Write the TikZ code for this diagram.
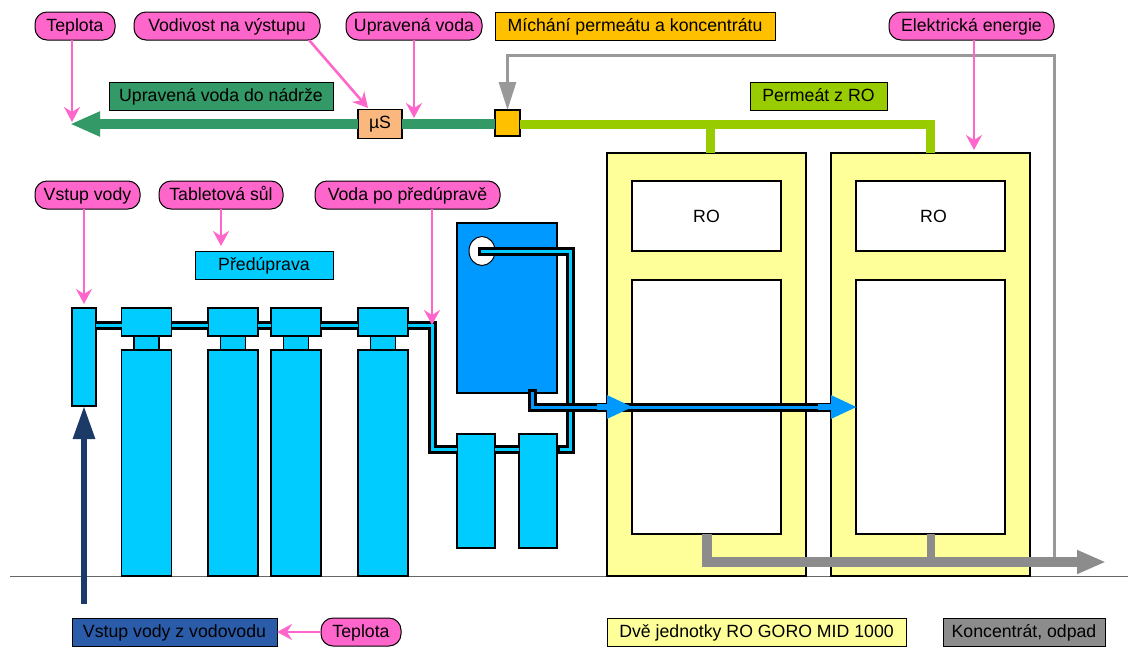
\documentclass[tikz,border=0pt]{standalone}
\usepackage{fontspec}
\setmainfont{Liberation Sans}
\usetikzlibrary{arrows.meta,shapes.geometric}
\definecolor{pinktag}{HTML}{FF66CC}
\definecolor{cyanpart}{HTML}{00CCFF}
\definecolor{tankblue}{HTML}{0099FF}
\definecolor{rowgreen}{HTML}{339966}
\definecolor{permgreen}{HTML}{99CC00}
\definecolor{mixorange}{HTML}{FFC000}
\definecolor{sensorsalmon}{HTML}{FAB77E}
\definecolor{unityellow}{HTML}{FFFF99}
\definecolor{wastegray}{HTML}{8C8C8C}
\definecolor{feedblue}{HTML}{2A5CAA}
\definecolor{feeddark}{HTML}{1B3A68}

\begin{document}
\begin{tikzpicture}[x=1pt,y=-1pt,
    every node/.style={inner sep=0pt,outer sep=0pt,font=\fontsize{17.7}{20}\selectfont},
    tag/.style={draw=black,line width=1pt,fill=pinktag,rounded corners=12pt,minimum height=28pt,text height=14pt,text depth=4pt},
    label/.style={draw=black,line width=1pt,minimum height=28pt,text height=14pt,text depth=4pt},
    part/.style={draw=black,line width=1.2pt,fill=cyanpart},
    unit/.style={draw=black,line width=1.2pt,fill=unityellow,minimum width=199pt,minimum height=423pt},
    inner/.style={draw=black,line width=1.2pt,fill=white,minimum width=149pt},
    tagarrow/.style={draw=pinktag,line width=2.6pt,-{Stealth[length=15pt,width=16pt,inset=5pt]}},
    pipe/.style={draw=black,line width=3pt,double=cyanpart,double distance=3pt},
    pipeout/.style={pipe,double=tankblue},
    flow/.style={draw=tankblue,line width=6pt,-{Triangle[length=26pt,width=22pt]}},
    waste/.style={draw=wastegray,line width=10pt},
    ]
  \useasboundingbox (0,0) rectangle (1128,646);
  \coordinate (groundl) at (10,576);
  \coordinate (groundr) at (1128,576);
  \draw[line width=1pt,draw=black!60] (groundl) -- (groundr);

  \node[unit] (unit1) at (706.5,364.5) {};
  \node[unit] (unit2) at (930.5,364.5) {};
  \node[inner,minimum height=70pt] (ro1) at (706.5,216) {RO};
  \node[inner,minimum height=70pt] (ro2) at (930.5,216) {\hspace*{6pt}RO};
  \node[inner,minimum height=254pt] (memb1) at (706.5,407) {};
  \node[inner,minimum height=254pt] (memb2) at (930.5,407) {};

  \node[part,minimum width=24pt,minimum height=98pt] (inlet) at (84,357) {};
  \foreach \name/\x in {a/146.5,b/233,c/296,d/383} {
    \node[part,minimum width=50pt,minimum height=28pt] (head\name) at (\x,322) {};
    \node[part,minimum width=25pt,minimum height=14pt] (neck\name) at (\x,343) {};
    \node[part,minimum width=50pt,minimum height=226pt] (body\name) at (\x,463) {};
  }
  \node[part,minimum width=38pt,minimum height=114pt] (filter1) at (476,491) {};
  \node[part,minimum width=38pt,minimum height=114pt] (filter2) at (538,491) {};
  \node[part,fill=tankblue,minimum width=100pt,minimum height=170pt] (tank) at (507,308) {};
  \node[draw=black,line width=1pt,fill=white,ellipse,minimum width=26pt,minimum height=29pt] (valve) at (482,251) {};

  \coordinate (pipel0) at (96,325);
  \coordinate (pipel1) at (432,325);
  \coordinate (pipel2) at (432,449);
  \coordinate (piper1) at (570,449);
  \coordinate (piper2) at (570,251);
  \draw[pipe] (pipel0) -- (heada.west |- pipel0);
  \draw[pipe] (heada.east |- pipel0) -- (headb.west |- pipel0);
  \draw[pipe] (headb.east |- pipel0) -- (headc.west |- pipel0);
  \draw[pipe] (headc.east |- pipel0) -- (headd.west |- pipel0);
  \draw[pipe] (headd.east |- pipel0) -- (pipel1) -- (pipel2) -- (filter1.west |- pipel2);
  \draw[pipe] (filter1.east |- pipel2) -- (filter2.west |- pipel2);
  \draw[pipe,line cap=rect,shorten <=4pt] (filter2.east |- piper1) -- (piper1) -- (piper2) -- (valve.center);

  \coordinate (outs) at (532,393);
  \coordinate (outc) at (532,407);
  \coordinate (oute) at (826,407);
  \draw[pipeout,line cap=rect] (outs) -- (outc) -- (oute);
  \coordinate (flow1s) at (597,407);
  \coordinate (flow1e) at (633,407);
  \coordinate (flow2s) at (818,407);
  \coordinate (flow2e) at (857,407);
  \draw[flow] (flow1s) -- (flow1e);
  \draw[flow] (flow2s) -- (flow2e);

  \node[draw=black,line width=1.2pt,fill=sensorsalmon,minimum width=44pt,minimum height=29pt] (sensor) at (380,124) {\textmu S};
  \node[draw=black,line width=1.2pt,fill=mixorange,minimum width=25pt,minimum height=26pt] (mixer) at (507.5,123) {};
  \coordinate (rowtip) at (70,124);
  \coordinate (permc) at (930,124);
  \coordinate (permd) at (710,124);
  \draw[draw=rowgreen,line width=10pt] (mixer.west |- rowtip) -- (sensor.east |- rowtip);
  \draw[draw=rowgreen,line width=10pt,-{Triangle[length=30pt,width=23pt]}] (sensor.west |- rowtip) -- (rowtip);
  \draw[draw=permgreen,line width=9pt] (mixer.east |- permc) -- (permc) -- (permc |- unit2.north);
  \draw[draw=permgreen,line width=9pt] (permd) -- (permd |- unit1.north);

  \coordinate (wastetip) at (1106,562);
  \coordinate (grayc1) at (1054,562);
  \coordinate (grayc2) at (1054,55);
  \coordinate (grayc3) at (507.5,55);
  \draw[draw=black!40!white,line width=3pt,-{Triangle[length=28pt,width=17pt]}] (grayc1) -- (grayc2) -- (grayc3) -- (mixer.north);
  \draw[waste,-{Triangle[length=29pt,width=22pt]}] (memb1.south) |- (wastetip);
  \draw[waste,line width=8pt] (memb2.south) -- (memb2.south |- wastetip);

  \node[tag,minimum width=80pt] (temp1) at (75,26) {Teplota};
  \node[tag,minimum width=186pt] (conduct) at (227,26) {Vodivost na výstupu};
  \node[tag,minimum width=136pt] (treated) at (414,26) {Upravená voda};
  \node[tag,minimum width=165pt] (power) at (971.5,26) {Elektrická energie};
  \node[tag,minimum width=105pt] (feed) at (87.5,195) {Vstup vody};
  \node[tag,minimum width=124pt] (salt) at (221,195) {Tabletová sůl};
  \node[tag,minimum width=185pt] (pretreated) at (407.5,195) {Voda po předúpravě};
  \node[tag,minimum width=80pt] (temp2) at (361,632) {Teplota};

  \node[label,fill=mixorange,minimum width=280pt] (mixlabel) at (635,26) {Míchání permeátu a koncentrátu};
  \node[label,fill=rowgreen,minimum width=224pt] (rowlabel) at (221,96) {Upravená voda do nádrže};
  \node[label,fill=permgreen,minimum width=137pt] (permlabel) at (818.5,96) {Permeát z RO};
  \node[label,fill=cyanpart,minimum width=138pt] (prelabel) at (264,265) {Předúprava};
  \node[label,fill=feedblue,minimum width=205pt] (feedlabel) at (174.5,632) {Vstup vody z vodovodu};
  \node[label,fill=unityellow,minimum width=299pt] (unitlabel) at (756.5,632) {Dvě jednotky RO GORO MID 1000};
  \node[label,fill=wastegray,minimum width=162pt] (wastelabel) at (1024,632) {Koncentrát, odpad};

  \coordinate (tip1) at (72,122);
  \coordinate (tip2) at (368,108);
  \coordinate (tip3) at (414,118);
  \coordinate (tip4) at (974,150);
  \coordinate (tip5) at (84,304);
  \coordinate (tip6) at (221,246);
  \coordinate (tip7) at (432,325);
  \coordinate (conductout) at (309,40);
  \draw[tagarrow] (tip1 |- temp1.south) -- (tip1);
  \draw[tagarrow] (conductout) -- (tip2);
  \draw[tagarrow] (treated.south) -- (tip3);
  \draw[tagarrow] (tip4 |- power.south) -- (tip4);
  \draw[tagarrow] (tip5 |- feed.south) -- (tip5);
  \draw[tagarrow] (salt.south) -- (tip6);
  \draw[tagarrow] (tip7 |- pretreated.south) -- (tip7);
  \draw[tagarrow] (temp2.west) -- (feedlabel.east);

  \coordinate (mainstart) at (84,604);
  \draw[draw=feeddark,line width=6pt,-{Triangle[length=33pt,width=21pt]}] (mainstart) -- (inlet.south);
\end{tikzpicture}
\end{document}
